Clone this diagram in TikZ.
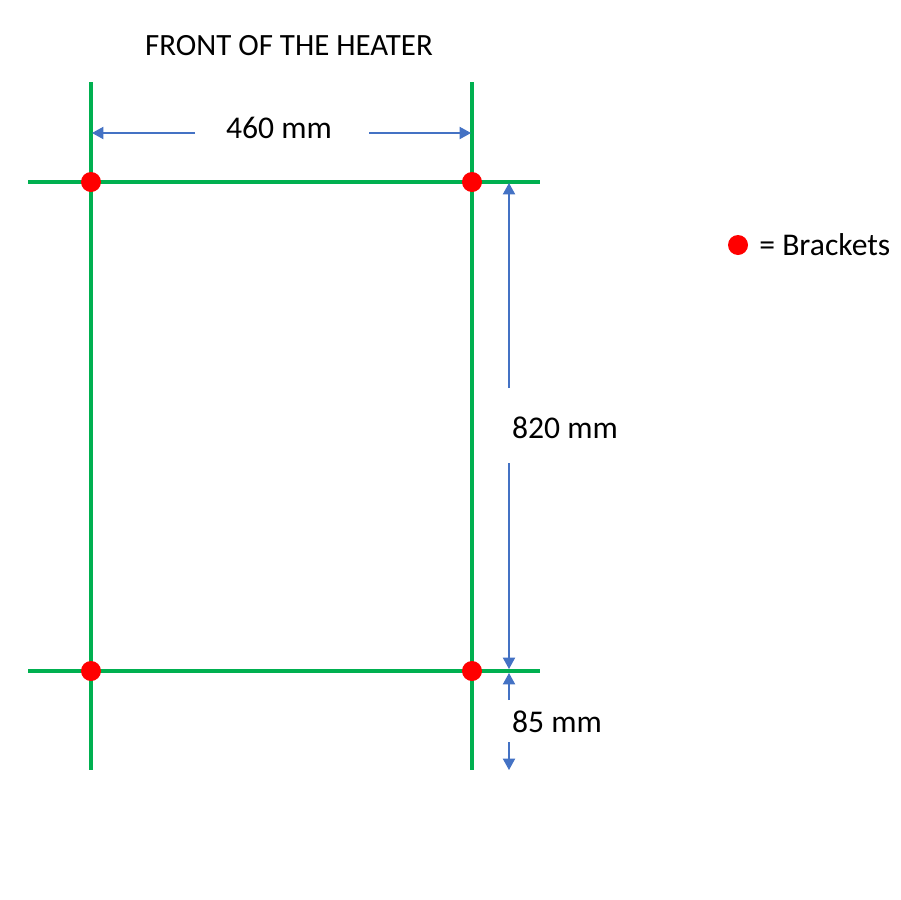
\documentclass[tikz,border=0pt]{standalone}
\usepackage{fontspec}
\setmainfont{Carlito}
\usetikzlibrary{arrows.meta}
\definecolor{frame}{HTML}{00B050}
\definecolor{dim}{HTML}{4472C4}
\definecolor{bracket}{HTML}{FF0000}

\begin{document}
\begin{tikzpicture}[x=0.02cm, y=-0.02cm,
  rail/.style={line width=2.2pt, color=frame},
  dimline/.style={line width=0.6pt, color=dim, -{Triangle[length=6.5pt,width=7pt]}},
  label/.style={font=\fontsize{18}{21}\selectfont, inner sep=0pt}]
  \useasboundingbox (0,0) rectangle (900,900);
  % corners of the heater
  \coordinate (tl) at (91,182);
  \coordinate (tr) at (472,182);
  \coordinate (bl) at (91,671);
  \coordinate (br) at (472,671);
  \draw [rail] (91,82) -- (91,770);
  \draw [rail] (472,82) -- (472,770);
  \draw [rail] (28,182) -- (540,182);
  \draw [rail] (28,671) -- (540,671);
  \foreach \Point in {tl, tr, bl, br} {
    \fill[bracket] (\Point) circle (10);
  }
  \node (title) [font=\fontsize{17.6}{20}\selectfont] at (289,46) {FRONT OF THE HEATER};
  % width
  \node (width) [label] at (279,128) {460 mm};
  \coordinate (wl) at (92,133);
  \coordinate (wr) at (471,133);
  \draw [dimline] (195,133) -- (wl);
  \draw [dimline] (369,133) -- (wr);
  % height
  \node (height) [label] at (565,428) {820 mm};
  \coordinate (ht) at (509,183);
  \coordinate (hb) at (509,669);
  \draw [dimline] (509,388) -- (ht);
  \draw [dimline] (509,463) -- (hb);
  % offset
  \node (offset) [label] at (557,722) {85 mm};
  \coordinate (ot) at (509,673);
  \coordinate (ob) at (509,770);
  \draw [dimline] (509,700) -- (ot);
  \draw [dimline] (509,742) -- (ob);
  % legend
  \fill[bracket] (738,245) circle (10) coordinate (key);
  \node (keytext) [label, anchor=west] at (759,245) {= Brackets};
\end{tikzpicture}
\end{document}
